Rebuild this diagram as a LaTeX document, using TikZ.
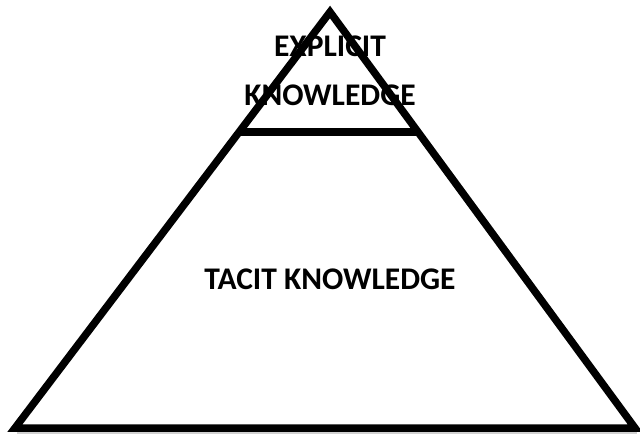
\documentclass[tikz,border=0pt]{standalone}
\usepackage{fontspec}
\setmainfont{Carlito}
\begin{document}
\begin{tikzpicture}[x=1pt,y=-1pt,
  edge/.style={line width=7.5pt,line join=miter,black},
  lbl/.style={font=\fontsize{31.5}{36}\selectfont\bfseries,inner sep=0pt,align=center}]
\useasboundingbox (0,0) rectangle (640,436);
\coordinate (apex) at (330,12);
\coordinate (bl) at (15,428);
\coordinate (br) at (635,428);
\coordinate (ml) at (239,132);
\coordinate (mr) at (418,132);
\draw[line width=7pt,black!18] ([shift={(1.5,2.5)}]bl) -- ([shift={(1.5,2.5)}]br);
\draw[edge] (apex) -- (br) -- (bl) -- cycle;
\draw[edge] (ml) -- (mr);
\node[lbl] (exp) at (330,46) {EXPLICIT};
\node[lbl] (know) at (330,95) {KNOWLEDGE};
\node[lbl] (tacit) at (330,279) {TACIT KNOWLEDGE};
\end{tikzpicture}
\end{document}
